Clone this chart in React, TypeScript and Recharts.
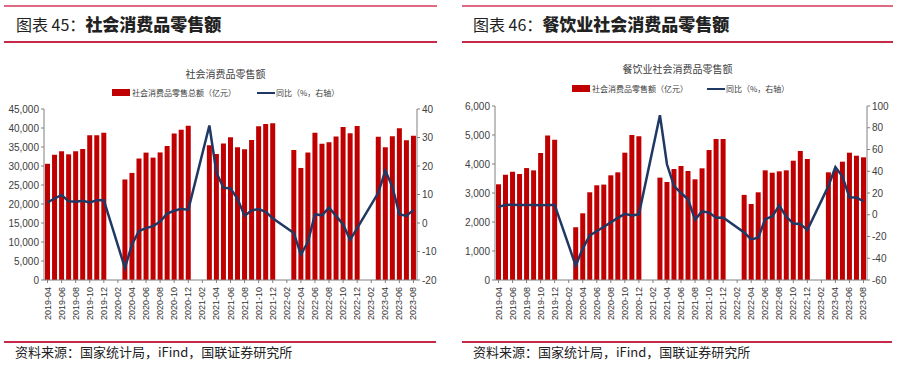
import React from 'react';
import { ComposedChart, Bar, Line, XAxis, YAxis } from 'recharts';

// 月份：2019-04 ~ 2023-08（1、2月无单月数据）
const months = [
  '2019-04', '2019-05', '2019-06', '2019-07', '2019-08', '2019-09', '2019-10', '2019-11', '2019-12',
  '2020-01', '2020-02', '2020-03', '2020-04', '2020-05', '2020-06', '2020-07', '2020-08', '2020-09', '2020-10', '2020-11', '2020-12',
  '2021-01', '2021-02', '2021-03', '2021-04', '2021-05', '2021-06', '2021-07', '2021-08', '2021-09', '2021-10', '2021-11', '2021-12',
  '2022-01', '2022-02', '2022-03', '2022-04', '2022-05', '2022-06', '2022-07', '2022-08', '2022-09', '2022-10', '2022-11', '2022-12',
  '2023-01', '2023-02', '2023-03', '2023-04', '2023-05', '2023-06', '2023-07', '2023-08',
];

// 社会消费品零售总额（亿元）
const retailSales = [
  30586, 32956, 33878, 33073, 33896, 34495, 38104, 38094, 38777,
  null, null, 26450, 28178, 31973, 33526, 32203, 33571, 35295, 38576, 39514, 40566,
  null, null, 35484, 33153, 35945, 37586, 34925, 34395, 36833, 40454, 41043, 41269,
  null, null, 34233, 29483, 33547, 38742, 35870, 36258, 37745, 40271, 38615, 40542,
  null, null, 37715, 34910, 37803, 39951, 36761, 37933,
];

// 同比（%）
const retailYoY = [
  7.2, 8.6, 9.8, 7.6, 7.5, 7.8, 7.2, 8.0, 8.0,
  null, null, -15.8, -7.5, -2.8, -1.8, -1.1, 0.5, 3.3, 4.3, 5.0, 4.6,
  null, null, 34.2, 17.7, 12.4, 12.1, 8.5, 2.5, 4.4, 4.9, 3.9, 1.7,
  null, null, -3.5, -11.1, -6.7, 3.1, 2.7, 5.4, 2.5, -0.5, -5.9, -1.8,
  null, null, 10.6, 18.4, 12.7, 3.1, 2.5, 4.6,
];

// 餐饮收入（亿元）
const cateringSales = [
  3300, 3630, 3735, 3655, 3860, 3780, 4380, 4980, 4840,
  null, null, 1820, 2300, 3025, 3266, 3290, 3610, 3713, 4390, 5000, 4955,
  null, null, 3530, 3380, 3828, 3931, 3759, 3472, 3851, 4483, 4862, 4862,
  null, null, 2935, 2620, 3024, 3782, 3700, 3747, 3782, 4114, 4448, 4172,
  null, null, 3713, 3790, 4080, 4390, 4286, 4230,
];

const cateringYoY = [
  7.4, 9.0, 9.3, 9.0, 9.0, 9.0, 8.8, 9.0, 9.0,
  null, null, -46.8, -31.1, -18.9, -15.2, -11.0, -7.0, -2.9, 0.8, -0.6, 0.4,
  null, null, 91.6, 46.4, 26.6, 20.0, 14.3, -4.5, 3.1, 2.0, -2.7, -2.6,
  null, null, -16.4, -22.7, -21.1, -4.0, -1.5, 8.4, -1.7, -8.1, -8.4, -14.1,
  null, null, 26.3, 43.8, 35.1, 16.1, 15.8, 12.4,
];

const retailLeftTicks = [0, 5000, 10000, 15000, 20000, 25000, 30000, 35000, 40000, 45000];
const retailRightTicks = [-20, -10, 0, 10, 20, 30, 40];
const cateringLeftTicks = [0, 1000, 2000, 3000, 4000, 5000, 6000];
const cateringRightTicks = [-60, -40, -20, 0, 20, 40, 60, 80, 100];

const BAR_RED = '#C00000';
const LINE_NAVY = '#203864';
const AXIS_GRAY = '#808080';
const CJK = '"Noto Sans CJK SC", sans-serif';
const NUM = '"Liberation Sans", Arial, sans-serif';

const MonthTick = (props: any) => {
  const { x, y, payload } = props;
  return (
    <g transform={`translate(${x},${y})`}>
      <text transform="rotate(-90)" x={-2} y={3} textAnchor="end" fontSize={9} fill="#333" fontFamily={NUM}>
        {payload.value}
      </text>
    </g>
  );
};

interface PanelProps {
  left: number;
  num: string;
  heading: string;
  chartTitle: string;
  barLabel: string;
  titleY: number;
  legendY: number;
  legendX: number;
  lineLegendX: number;
  titleX: number;
  top: number;
  marginLeft: number;
  marginRight: number;
  sales: (number | null)[];
  yoy: (number | null)[];
  leftTicks: number[];
  rightTicks: number[];
}

const Panel: React.FC<PanelProps> = (p) => {
  const data = months.map((m, i) => ({ month: m, sales: p.sales[i], yoy: p.yoy[i] }));
  const lt = p.leftTicks;
  const rt = p.rightTicks;
  return (
    <div style={{ position: 'absolute', left: p.left, top: 0, width: 449, height: 373 }}>
      {/* 标题 */}
      <div style={{ position: 'absolute', left: p.titleX, top: 14, fontFamily: CJK, fontSize: 16, color: '#222', whiteSpace: 'nowrap', lineHeight: '20px' }}>
        <span>图表 {p.num}：</span>
        <span style={{ fontWeight: 900, fontSize: 17 }}>{p.heading}</span>
      </div>

      {/* 图内标题和图例 */}
      <div style={{ position: 'absolute', left: 0, width: 449, top: p.titleY - 7, textAlign: 'center', fontFamily: CJK, fontSize: 10, color: '#404040', lineHeight: '14px', paddingLeft: p.left === 0 ? 2 : 8, boxSizing: 'border-box' }}>
        {p.chartTitle}
      </div>
      <div style={{ position: 'absolute', left: p.legendX, top: p.legendY - 4, width: 18, height: 7, background: BAR_RED }} />
      <div style={{ position: 'absolute', left: p.legendX + 20, top: p.legendY - 6, fontFamily: CJK, fontSize: 8, color: '#404040', lineHeight: '12px', whiteSpace: 'nowrap' }}>
        {p.barLabel}
      </div>
      <div style={{ position: 'absolute', left: p.lineLegendX, top: p.legendY - 1, width: 18, height: 2, background: LINE_NAVY }} />
      <div style={{ position: 'absolute', left: p.lineLegendX + 19, top: p.legendY - 6, fontFamily: CJK, fontSize: 8, color: '#404040', lineHeight: '12px', whiteSpace: 'nowrap' }}>
        同比（%，右轴）
      </div>

      <div style={{ position: 'absolute', left: 0, top: 0 }}>
        <ComposedChart
          width={449}
          height={330}
          data={data}
          margin={{ top: p.top, right: p.marginRight, left: p.marginLeft, bottom: 0 }}
        >
          <XAxis
            dataKey="month"
            interval={1}
            tick={<MonthTick />}
            tickSize={3}
            height={50}
            stroke={AXIS_GRAY}
          />
          <YAxis
            yAxisId="left"
            width={40}
            domain={[lt[0], lt[lt.length - 1]]}
            ticks={lt}
            tickFormatter={(v: number) => v.toLocaleString('en-US')}
            tick={{ fontSize: 10, fill: '#404040', fontFamily: NUM }}
            tickSize={3}
            stroke={AXIS_GRAY}
          />
          <YAxis
            yAxisId="right"
            orientation="right"
            width={30}
            domain={[rt[0], rt[rt.length - 1]]}
            ticks={rt}
            tick={{ fontSize: 10, fill: '#404040', fontFamily: NUM }}
            tickSize={3}
            stroke={AXIS_GRAY}
          />
          <Bar yAxisId="left" dataKey="sales" fill={BAR_RED} barSize={5} isAnimationActive={false} />
          <Line
            yAxisId="right"
            dataKey="yoy"
            stroke={LINE_NAVY}
            strokeWidth={2.5}
            dot={false}
            connectNulls
            type="linear"
            isAnimationActive={false}
          />
        </ComposedChart>
      </div>
    </div>
  );
};

const sourceText = '资料来源：国家统计局，iFind，国联证券研究所';

export default function App() {
  return (
    <div style={{ position: 'absolute', left: 0, top: 0, width: 898, height: 373, background: '#fff', overflow: 'hidden' }}>
      {/* 顶部与标题下分隔线 */}
      <div style={{ position: 'absolute', left: 4, top: 5, width: 433, height: 2, background: '#dd6a82' }} />
      <div style={{ position: 'absolute', left: 4, top: 41, width: 433, height: 1.5, background: '#c42a48' }} />
      <div style={{ position: 'absolute', left: 462, top: 5, width: 431, height: 2, background: '#dd6a82' }} />
      <div style={{ position: 'absolute', left: 462, top: 41, width: 431, height: 1.5, background: '#c42a48' }} />

      <Panel
        left={0}
        num="45"
        heading="社会消费品零售额"
        chartTitle="社会消费品零售额"
        barLabel="社会消费品零售总额（亿元）"
        titleX={16}
        titleY={74}
        legendY={93}
        legendX={112}
        lineLegendX={257}
        top={109}
        marginLeft={4}
        marginRight={2}
        sales={retailSales}
        yoy={retailYoY}
        leftTicks={retailLeftTicks}
        rightTicks={retailRightTicks}
      />
      <Panel
        left={449}
        num="46"
        heading="餐饮业社会消费品零售额"
        chartTitle="餐饮业社会消费品零售额"
        barLabel="社会消费品零售额（亿元）"
        titleX={24}
        titleY={69}
        legendY={89}
        legendX={123}
        lineLegendX={258}
        top={106}
        marginLeft={6}
        marginRight={1}
        sales={cateringSales}
        yoy={cateringYoY}
        leftTicks={cateringLeftTicks}
        rightTicks={cateringRightTicks}
      />

      {/* 底部来源 */}
      <div style={{ position: 'absolute', left: 4, top: 341, width: 432, height: 1.5, background: '#c42a48' }} />
      <div style={{ position: 'absolute', left: 462, top: 341, width: 430, height: 1.5, background: '#c42a48' }} />
      <div style={{ position: 'absolute', left: 15, top: 344, fontFamily: CJK, fontSize: 13, color: '#222', lineHeight: '16px', letterSpacing: 0, whiteSpace: 'nowrap' }}>
        {sourceText}
      </div>
      <div style={{ position: 'absolute', left: 473, top: 344, fontFamily: CJK, fontSize: 13, color: '#222', lineHeight: '16px', letterSpacing: 0, whiteSpace: 'nowrap' }}>
        {sourceText}
      </div>
    </div>
  );
}
